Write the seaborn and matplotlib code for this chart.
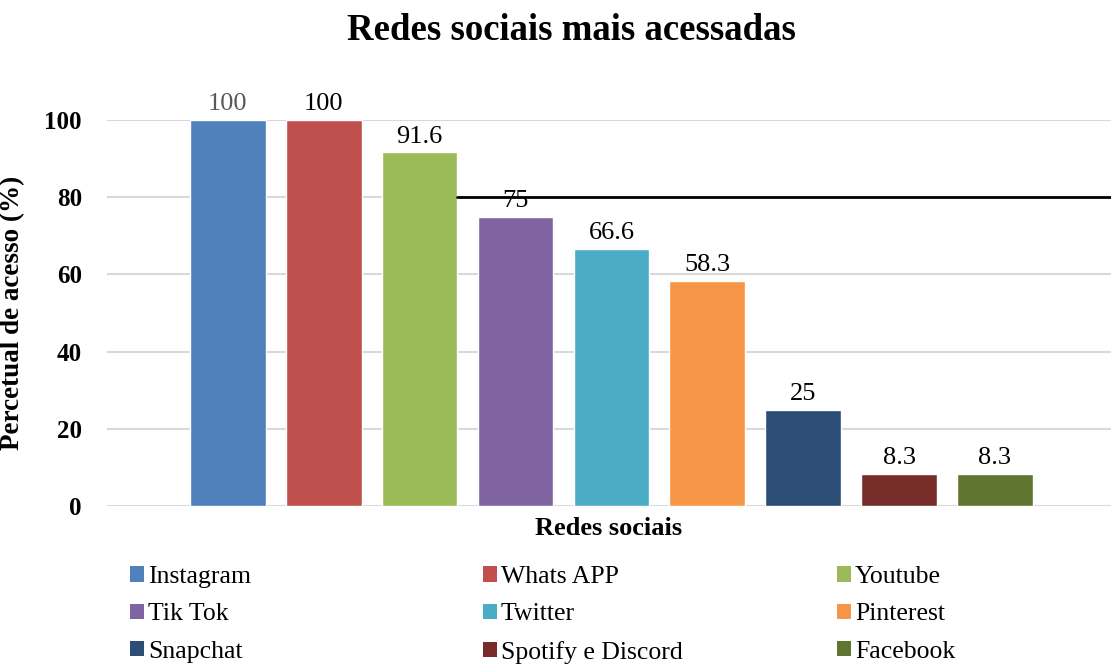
import matplotlib
matplotlib.use("Agg")
import matplotlib.pyplot as plt
import seaborn as sns
import pandas as pd
from matplotlib.patches import Patch

redes = ["Instagram", "Whats APP", "Youtube", "Tik Tok", "Twitter",
         "Pinterest", "Snapchat", "Spotify e Discord", "Facebook"]
valores = [100, 100, 91.6, 75, 66.6, 58.3, 25, 8.3, 8.3]
rotulos = ["100", "100", "91.6", "75", "66.6", "58.3", "25", "8.3", "8.3"]
cores = ["#4F81BD", "#C0504D", "#9BBB59", "#8064A2", "#4BACC6",
         "#F79646", "#2C4D75", "#772C2A", "#5F7530"]
yticks = [0, 20, 40, 60, 80, 100]

sns.set_theme(style="white")
plt.rcParams["font.family"] = ["Liberation Serif", "DejaVu Serif"]
plt.rcParams["text.color"] = "black"
plt.rcParams["axes.labelcolor"] = "black"
plt.rcParams["ytick.color"] = "black"
plt.rcParams["xtick.color"] = "black"

df = pd.DataFrame({"rede": redes, "valor": valores})

fig = plt.figure(figsize=(11.11, 6.66), dpi=100)
ax = fig.add_axes([107/1111, 1-506/666, 1-107/1111, (506-120)/666])

sns.barplot(data=df, x="rede", y="valor", hue="rede", palette=cores,
            order=redes, hue_order=redes, width=0.79, legend=False,
            saturation=1, ax=ax, zorder=2)

ax.set_ylim(0, 100)
ax.set_xlim(-1.26, len(redes) - 1 + 1.21)
ax.set_yticks(yticks)
ax.set_yticklabels([str(t) for t in yticks], fontsize=18, fontweight="bold")
ax.set_xticks([])
ax.tick_params(axis="y", length=0, pad=18)
for s in ax.spines.values():
    s.set_visible(False)
ax.yaxis.grid(True, color="#D9D9D9", linewidth=1.5, zorder=0)
ax.set_axisbelow(True)

ax.set_ylabel("Percetual de acesso (%)", fontsize=19.5, fontweight="bold")
ax.yaxis.set_label_coords(-(107-25)/1004, 0.5)
ax.set_xlabel("Redes sociais", fontsize=19, fontweight="bold", labelpad=8)

# stray black line at 80 (from right edge of Youtube bar)
xl = ax.get_xlim()
x_start = (2 + 0.79/2 - xl[0]) / (xl[1] - xl[0])
ax.axhline(80, xmin=x_start, xmax=1.0, color="black", linewidth=2, zorder=3, clip_on=False)

for i, (v, lab) in enumerate(zip(valores, rotulos)):
    ax.text(i, v + 1.2, lab, ha="center", va="bottom", fontsize=19,
            color="#595959" if i == 0 else "black", zorder=4)

fig.text(571/1111, 1-31/666, "Redes sociais mais acessadas", ha="center", va="center",
         fontsize=26.5, fontweight="bold", color="black")

# legend: three columns, row-wise order
col_x = [130/1111, 483/1111, 837/1111]
for c in range(3):
    handles = [Patch(facecolor=cores[r*3 + c], edgecolor="none", label=redes[r*3 + c]) for r in range(3)]
    leg = fig.legend(handles=handles, loc="upper left", bbox_to_anchor=(col_x[c], 1-566/666),
                     frameon=False, fontsize=18.5, handlelength=0.55, handleheight=0.55,
                     handletextpad=0.15, labelspacing=0.6, borderpad=0, borderaxespad=0)
    for t in leg.get_texts():
        t.set_color("black")

fig.savefig("out.png", dpi=100)
